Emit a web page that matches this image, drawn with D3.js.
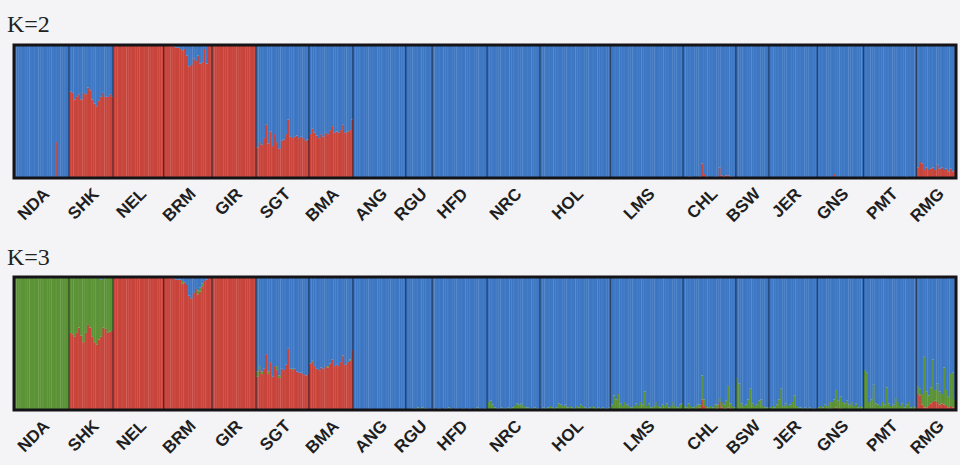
<!DOCTYPE html>
<html>
<head>
<meta charset="utf-8">
<script src="https://cdn.jsdelivr.net/npm/d3@7"></script>
<style>
  html, body { margin: 0; padding: 0; background: #f4f4f6; }
  svg { display: block; }
</style>
</head>
<body>
<svg id="chart" width="960" height="465"></svg>
<script>
// Breeds in plot order and the number of animals sampled per breed
const populations = ["NDA","SHK","NEL","BRM","GIR","SGT","BMA","ANG","RGU","HFD",
                     "NRC","HOL","LMS","CHL","BSW","JER","GNS","PMT","RMG"];
const sampleSizes = [25,20,23,22,20,24,20,24,12,25,24,32,33,24,15,22,21,24,18];

// K=2: membership (%) in the indicine (red) cluster; the rest is taurine (blue)
const k2Red = [
  [0,0,0,0,0,0,0,0,0,0,0,0,0,0,0,0,0,0,0,27,0,0,0,0,0],
  [65,64,59,61,63,59,64,63,68,66,59,56,54,58,61,64,61,61,63,61],
  [100,100,100,100,100,100,100,100,100,100,100,100,100,100,100,100,100,100,100,100,100,100,100],
  [100,100,100,100,99,98,98,97,96,97,92,84,85,90,88,92,86,87,97,86,100,100],
  [100,100,100,100,100,100,100,100,100,100,100,100,100,100,100,100,100,100,100,100],
  [23,27,25,30,40,26,35,24,33,27,22,28,29,33,44,31,30,31,32,30,31,30,28,29],
  [33,37,34,32,30,33,31,34,33,36,39,34,35,34,36,40,34,35,36,44],
  [0,0,0,0,0,0,0,0,0,0,0,0,0,0,0,0,0,0,0,0,0,0,0,0],
  [0,0,0,0,0,0,0,0,0,0,0,0],
  [0,0,0,0,0,0,0,0,0,0,0,0,0,0,0,0,0,0,0,0,0,0,0,0,0],
  [0,0,0,0,0,0,0,0,0,0,0,0,0,0,0,0,0,0,0,0,0,0,0,0],
  [0,0,0,0,0,0,0,0,0,0,0,0,0,0,0,0,0,0,0,0,0,0,0,0,0,0,0,0,0,0,0,0],
  [0,0,0,0,0,0,0,0,0,0,0,0,0,0,0,0,0,0,0,0,0,0,0,0,0,0,0,0,0,0,0,0,0],
  [0,0,1,1,0,0,0,1,11,3,1,0,0,0,1,0,8,2,1,2,2,1,1,0],
  [0,0,0,0,0,0,0,0,0,0,0,0,0,0,0],
  [0,0,0,0,0,0,0,0,0,0,0,0,0,0,0,0,0,0,0,0,0,0],
  [0,0,0,0,0,0,0,3,0,0,0,0,0,0,0,0,0,0,0,0,0],
  [0,0,0,0,0,0,0,0,0,0,0,0,0,0,0,0,0,0,0,1,0,0,0,0],
  [8,12,11,6,8,6,7,8,6,10,7,8,6,7,5,7,5,6]
];

// K=3: membership (%) in the indicine (red) and African taurine (green) clusters;
// the remainder is the European taurine (blue) cluster
const k3Red = [
  [0,0,0,0,0,0,0,0,0,0,0,0,0,0,0,0,0,0,0,0,0,0,0,0,0],
  [58,57,55,58,62,56,51,58,64,62,55,51,49,53,55,62,61,58,59,60],
  [100,100,100,100,100,100,100,100,100,100,100,100,100,100,100,100,100,100,100,100,100,100,100],
  [100,100,100,100,99,98,98,98,95,96,94,86,84,88,91,87,89,93,97,98,100,100],
  [100,100,100,100,100,100,100,100,100,100,100,100,100,100,100,100,100,100,100,100],
  [25,30,27,31,42,27,36,25,33,30,24,31,30,34,46,31,30,31,29,28,28,27,26,27],
  [35,36,33,31,30,32,31,33,32,35,38,33,34,33,36,41,34,36,37,45],
  [0,0,0,0,0,0,0,0,0,0,0,0,0,0,0,0,0,0,0,0,0,0,0,0],
  [0,0,0,0,0,0,0,0,0,0,0,0],
  [0,0,0,0,0,0,0,0,0,0,0,0,0,0,0,0,0,0,0,0,0,0,0,0,0],
  [0,0,0,0,0,0,0,0,0,0,0,0,0,0,0,0,0,0,0,0,0,0,0,0],
  [0,0,0,0,0,0,0,0,0,0,0,0,0,0,0,0,0,0,0,0,0,0,0,0,0,0,0,0,0,0,0,0],
  [0,0,0,0,0,0,0,0,0,0,0,0,0,0,0,0,0,0,0,0,0,0,0,0,0,0,0,0,0,0,0,0,0],
  [0,0,1,0,0,0,0,2,8,3,0,0,0,0,0,1,6,2,1,1,2,1,0,0],
  [0,0,0,0,0,0,0,0,0,0,0,0,0,0,0],
  [0,0,0,0,0,0,0,0,0,0,0,0,0,0,0,0,0,0,0,0,0,0],
  [0,0,0,0,0,1,0,0,2,0,1,0,0,0,0,0,0,0,0,0,0],
  [0,0,0,0,0,0,0,0,0,0,0,0,0,0,0,0,0,0,0,0,0,0,0,0],
  [12,11,4,2,2,3,5,6,7,6,4,5,4,3,2,3,2,2]
];
const k3Green = [
  [100,100,100,100,100,100,100,100,100,100,100,100,100,100,100,100,100,100,100,100,100,100,100,100,100],
  [42,43,45,42,38,44,49,42,36,38,45,49,51,47,43,38,39,42,41,40],
  [0,0,0,0,0,0,0,0,0,0,0,0,0,0,0,0,0,0,0,0,0,0,0],
  [0,0,0,0,0,0,0,0,2,0,0,0,0,0,0,3,3,2,0,0,0,0],
  [0,0,0,0,0,0,0,0,0,0,0,0,0,0,0,0,0,0,0,0],
  [4,3,2,0,0,2,0,0,0,3,2,0,0,0,0,0,1,0,0,0,0,0,0,0],
  [0,1,0,0,0,0,0,0,1,0,0,0,0,0,0,0,0,0,1,0],
  [0,0,0,0,0,0,0,0,0,0,0,0,0,0,0,0,0,0,0,0,0,0,0,0],
  [0,0,0,1,1,2,1,2,1,1,0,1],
  [1,0,1,1,0,1,1,2,1,0,1,1,0,1,1,0,1,1,0,1,2,1,0,1,1],
  [6,7,4,2,1,1,2,1,1,2,1,2,3,5,4,5,3,2,2,1,1,2,1,1],
  [1,2,1,2,3,2,1,2,5,4,3,4,2,3,2,1,3,2,4,3,2,1,2,3,2,1,2,1,2,1,1,2],
  [4,11,8,12,5,3,6,4,3,2,3,5,3,6,4,14,3,5,2,3,6,3,2,4,3,5,2,3,6,3,2,4,5],
  [3,2,4,3,2,3,4,2,18,5,3,2,3,2,4,3,3,4,3,6,16,4,3,2],
  [24,20,5,3,4,8,16,5,3,4,7,8,3,2,2],
  [2,3,2,4,8,16,3,5,3,4,6,11,3,2,2,1,2,1,2,1,1,1],
  [2,3,2,4,3,5,6,8,13,7,9,6,5,7,4,6,3,5,2,3,2],
  [30,28,6,8,19,5,4,3,6,4,17,5,3,4,9,6,3,5,2,4,6,2,3,2],
  [6,5,8,38,12,8,12,32,8,14,10,7,28,12,8,24,26,6]
];

const clusterKeys = ["red", "green", "blue"];
const clusterColors = { red: "#c8443b", green: "#5b9235", blue: "#3d77c3" };

// Flatten to one record per animal
function buildIndividuals(redArr, greenArr) {
  const rows = [];
  populations.forEach((pop, p) => {
    for (let i = 0; i < sampleSizes[p]; i++) {
      const red = redArr[p][i] / 100;
      const green = greenArr ? greenArr[p][i] / 100 : 0;
      rows.push({ id: pop + "_" + i, pop: p, red, green, blue: Math.max(0, 1 - red - green) });
    }
  });
  return rows;
}

const panels = [
  { title: "K=2", titleY: 32, top: 45, rows: buildIndividuals(k2Red, null) },
  { title: "K=3", titleY: 265, top: 277, rows: buildIndividuals(k3Red, k3Green) }
];

const svg = d3.select("#chart");
const left = 14, right = 956, panelH = 133;

svg.append("rect").attr("width", 960).attr("height", 465).attr("fill", "#f4f4f6");

// index of the first animal of each breed
const starts = [];
{
  let acc = 0;
  sampleSizes.forEach(n => { starts.push(acc); acc += n; });
}

panels.forEach(panel => {
  const rows = panel.rows;
  const x = d3.scaleBand().domain(rows.map(d => d.id)).range([left, right]).padding(0);
  const y = d3.scaleLinear().domain([0, 1]).range([panel.top + panelH, panel.top]);
  const series = d3.stack().keys(clusterKeys)(rows);

  const g = svg.append("g");

  // stacked membership bars
  g.selectAll("g.cluster")
    .data(series)
    .join("g")
      .attr("class", "cluster")
      .attr("fill", s => clusterColors[s.key])
    .selectAll("rect")
    .data(s => s)
    .join("rect")
      .attr("x", d => x(d.data.id))
      .attr("width", x.bandwidth() + 0.35)
      .attr("y", d => y(d[1]))
      .attr("height", d => Math.max(0, y(d[0]) - y(d[1])));

  // faint seams between animals
  g.append("g")
    .selectAll("line")
    .data(rows.filter((d, i) => i % 2 === 1))
    .join("line")
      .attr("x1", d => x(d.id) + 0.3).attr("x2", d => x(d.id) + 0.3)
      .attr("y1", panel.top).attr("y2", panel.top + panelH)
      .attr("stroke", "#ffffff").attr("stroke-opacity", 0.1).attr("stroke-width", 0.7);

  // breed separators
  g.append("g")
    .selectAll("line")
    .data(starts.slice(1))
    .join("line")
      .attr("x1", s => x(rows[s].id)).attr("x2", s => x(rows[s].id))
      .attr("y1", panel.top).attr("y2", panel.top + panelH)
      .attr("stroke", "#0d1424").attr("stroke-opacity", 0.6).attr("stroke-width", 1.3);

  // frame
  g.append("rect")
    .attr("x", left).attr("y", panel.top)
    .attr("width", right - left).attr("height", panelH)
    .attr("fill", "none").attr("stroke", "#141418").attr("stroke-width", 3);

  // panel title
  svg.append("text")
    .attr("x", 7).attr("y", panel.titleY)
    .attr("font-family", "'Liberation Serif', 'Times New Roman', serif")
    .attr("font-size", 24).attr("fill", "#222")
    .text(panel.title);

  // breed labels, rotated 45 degrees, their ends just right of each breed's centre
  const labelY = panel.top + panelH + 17;
  svg.append("g")
    .selectAll("text")
    .data(populations)
    .join("text")
      .attr("transform", (pop, p) => {
        const x0 = x(rows[starts[p]].id);
        const x1 = x(rows[starts[p] + sampleSizes[p] - 1].id) + x.bandwidth();
        return "translate(" + ((x0 + x1) / 2 + 9) + "," + labelY + ") rotate(-45)";
      })
      .attr("text-anchor", "end")
      .attr("font-family", "'Liberation Sans', Arial, sans-serif")
      .attr("font-weight", "bold")
      .attr("font-size", 17)
      .attr("fill", "#1e1e1e")
      .text(d => d);
});
</script>
</body>
</html>
